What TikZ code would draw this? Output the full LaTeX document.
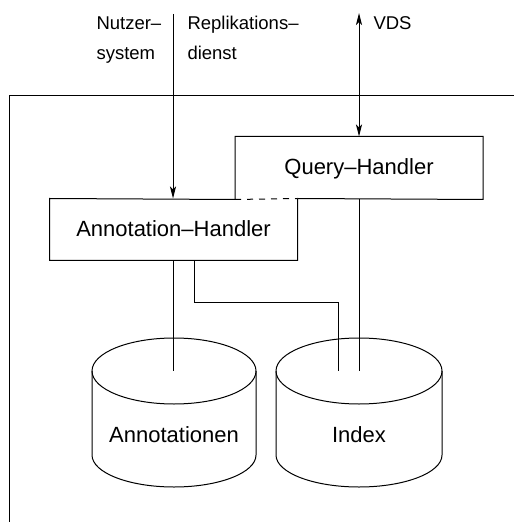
\documentclass[tikz,border=0pt]{standalone}
\usepackage{fontspec}
\setmainfont{Liberation Sans}
\usetikzlibrary{arrows.meta}

\tikzset{
  handler/.style={rectangle, inner sep=0pt, minimum width=123.5pt, text height=7pt, text depth=0pt, font=\fontsize{11}{13}\selectfont},
  dblabel/.style={inner sep=0pt, font=\fontsize{11}{13}\selectfont},
  toplbl/.style={inner sep=0pt, align=left, font=\fontsize{9.25}{15}\selectfont},
  arr/.style={-{Stealth[length=6pt,width=3pt,inset=1.5pt]}},
  arrboth/.style={{Stealth[length=6pt,width=3pt,inset=1.5pt]}-{Stealth[length=6pt,width=3pt,inset=1.5pt]}},
}

\begin{document}
\begin{tikzpicture}[x=0.5pt,y=0.5pt,yscale=-1,xscale=1,line width=0.5pt]
\useasboundingbox (0,0) rectangle (514,522);

%Straight Lines [frame]
\draw (9,96) -- (514,96);
\draw (9,96) -- (9,522);

%Shape: Rectangle [handlers]
\node[handler, minimum height=31pt] (qh) at (359,168) {Query–Handler};
\node[handler, minimum height=30.5pt] (ah) at (173.5,229.5) {Annotation–Handler};
\draw (qh.south west) -- (qh.north west) -- (qh.north east) -- (qh.south east) -- (ah.north east);
\draw (qh.south west) -- (ah.north west) -- (ah.south west) -- (ah.south east) -- (ah.north east);
\draw [dash pattern=on 3pt off 3pt] (qh.south west) -- (ah.north east);

%Shape: Can [Annotationen]
\draw (174,371) ellipse [x radius=82, y radius=33];
\draw (92,371) -- (92,455) arc [start angle=180, end angle=0, x radius=82, y radius=32] -- (256,371);
\node[dblabel] (annlbl) at (174,435) {Annotationen};
\coordinate (annin) at (173,371);

%Shape: Can [Index]
\draw (359,371) ellipse [x radius=83, y radius=33];
\draw (276,371) -- (276,455) arc [start angle=180, end angle=0, x radius=83, y radius=32] -- (442,371);
\node[dblabel] (idxlbl) at (359,435) {Index};
\coordinate (idxa) at (338,371);
\coordinate (idxq) at (359,371);

%Straight Lines [connections]
\draw (ah.south -| annin) -- (annin);
\draw ([xshift=10.25pt]ah.south) -- ++(0,42) -| (idxa);
\draw (qh.south) -- (idxq);

%Straight Lines [arrows from outside]
\coordinate (usr) at (173,14);
\draw [arr] (usr) -- (usr |- ah.north);
\coordinate (vds) at (359,13);
\draw [arrboth] (vds) -- (qh.north);

%Text
\node[toplbl, anchor=base west] (usrlbl) at (96,60) {Nutzer–\\system};
\node[toplbl, anchor=base west] (replbl) at (187,60) {Replikations–\\dienst};
\node[toplbl, anchor=base west] (vdslbl) at (373,30) {VDS};

\end{tikzpicture}
\end{document}
